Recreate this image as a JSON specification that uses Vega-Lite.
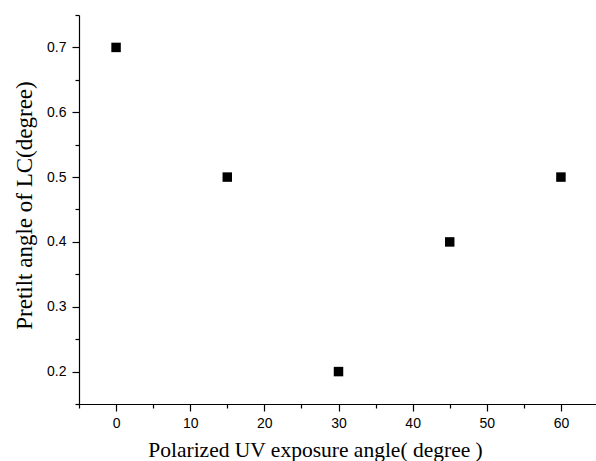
{
  "$schema": "https://vega.github.io/schema/vega-lite/v6.json",
  "autosize": {"type": "none"},
  "padding": {"left": 79, "top": 15, "right": 0, "bottom": 57},
  "width": 519,
  "height": 389,
  "background": "white",
  "config": {"view": {"stroke": null}},
  "data": {"values": [
    {"angle": 0, "pretilt": 0.7},
    {"angle": 15, "pretilt": 0.5},
    {"angle": 30, "pretilt": 0.2},
    {"angle": 45, "pretilt": 0.4},
    {"angle": 60, "pretilt": 0.5}
  ]},
  "mark": {"type": "point", "shape": "square", "filled": true, "color": "black", "size": 90, "opacity": 1},
  "encoding": {
    "x": {
      "field": "angle", "type": "quantitative",
      "scale": {"domain": [-5, 65], "nice": false, "zero": false},
      "axis": {
        "title": "Polarized UV exposure angle( degree )",
        "titleFont": "Liberation Serif", "titleFontSize": 21.5, "titleFontWeight": "normal", "titleColor": "black",
        "titlePadding": 9, "titleX": 236, "titleAnchor": null, "titleAlign": "center",
        "values": [-5, 0, 5, 10, 15, 20, 25, 30, 35, 40, 45, 50, 55, 60, 65],
        "labelExpr": "datum.value % 10 === 0 ? datum.label : ''",
        "tickSize": {"condition": {"test": "datum.value % 10 === 0", "value": 7}, "value": 4},
        "labelFont": "Liberation Sans", "labelFontSize": 14, "labelColor": "black", "labelPadding": 5,
        "grid": false, "domainColor": "black", "tickColor": "black", "domainWidth": 1.2, "tickWidth": 1.2,
        "labelFlush": false, "labelOverlap": false
      }
    },
    "y": {
      "field": "pretilt", "type": "quantitative",
      "scale": {"domain": [0.15, 0.75], "nice": false, "zero": false},
      "axis": {
        "title": "Pretilt angle of LC(degree)",
        "titleFont": "Liberation Serif", "titleFontSize": 23, "titleFontWeight": "normal", "titleColor": "black",
        "titlePadding": 10, "titleY": 190, "titleAnchor": null, "titleAlign": "center",
        "values": [0.15, 0.2, 0.25, 0.3, 0.35, 0.4, 0.45, 0.5, 0.55, 0.6, 0.65, 0.7, 0.75],
        "labelExpr": "abs(datum.value * 10 - round(datum.value * 10)) < 0.001 ? format(datum.value, '.1f') : ''",
        "tickSize": {"condition": {"test": "abs(datum.value * 10 - round(datum.value * 10)) < 0.001", "value": 7}, "value": 4},
        "labelFont": "Liberation Sans", "labelFontSize": 14, "labelColor": "black", "labelPadding": 6,
        "grid": false, "domainColor": "black", "tickColor": "black", "domainWidth": 1.2, "tickWidth": 1.2,
        "labelFlush": false, "labelOverlap": false
      }
    }
  }
}
